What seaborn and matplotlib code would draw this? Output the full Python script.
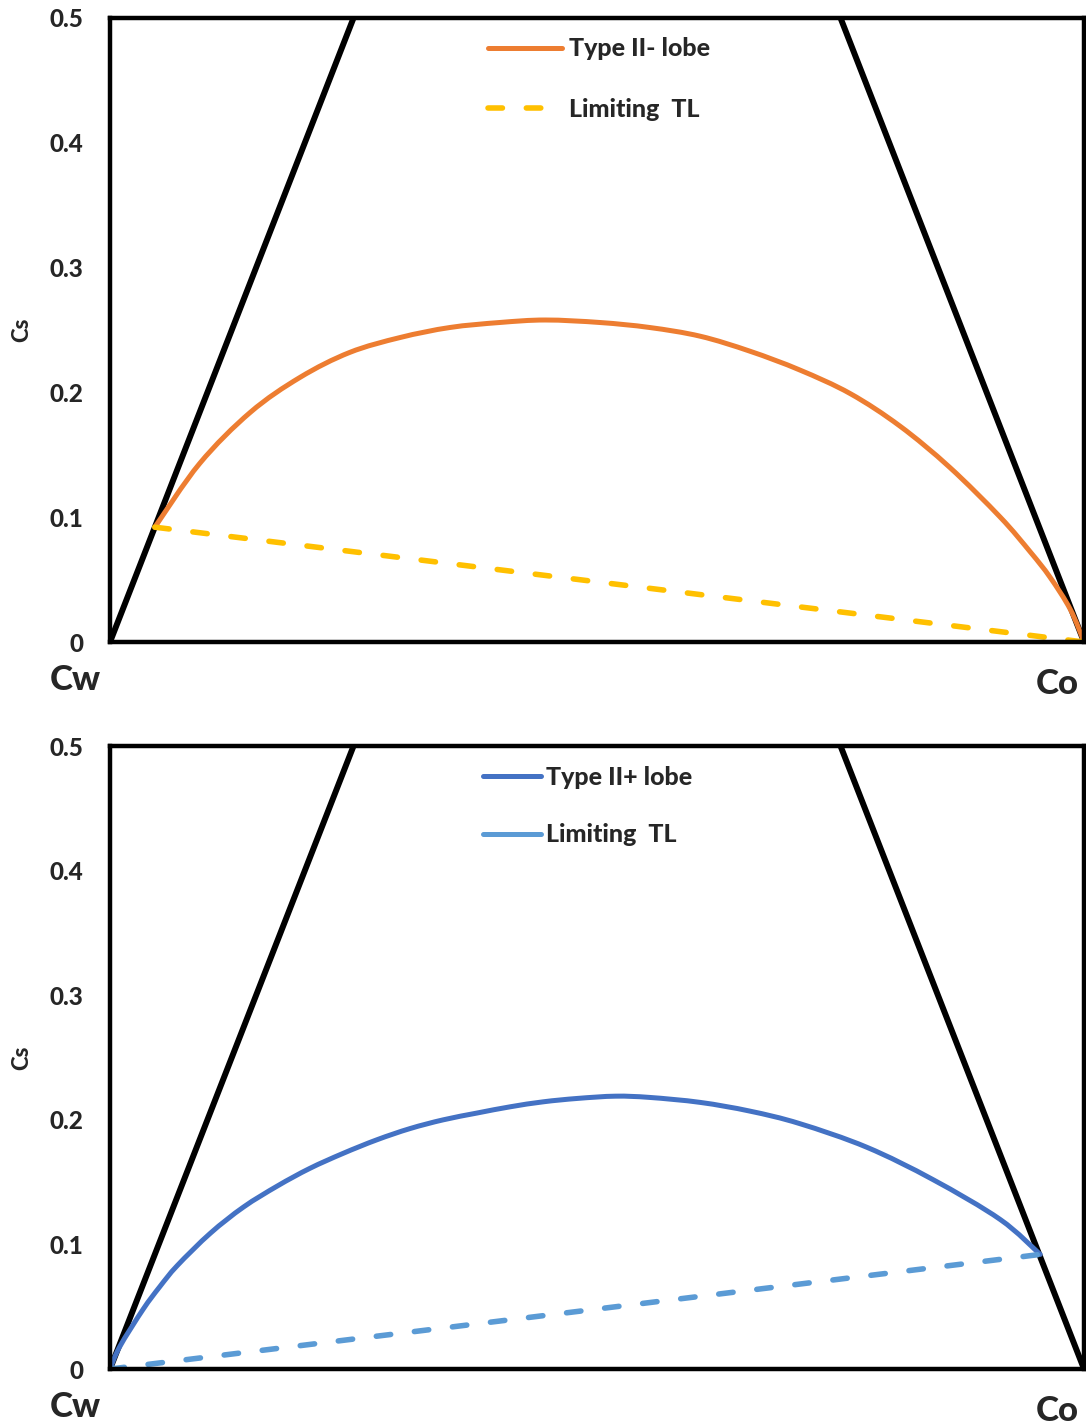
import matplotlib
matplotlib.use("Agg")
import matplotlib.pyplot as plt
from matplotlib.lines import Line2D
from matplotlib.path import Path
from matplotlib.patches import PathPatch
import seaborn as sns

# Phase-diagram frame: the two sides of the ternary region in (x, Cs) coordinates
edge_x = [0.0, 0.5, 1.0]
edge_y = [0.0, 1.0, 0.0]

# Type II- lobe (binodal) and its limiting tie line
lobe_minus_x = [0.046, 0.092, 0.144, 0.195, 0.246, 0.298, 0.349, 0.400, 0.447,
                0.503, 0.554, 0.606, 0.657, 0.708, 0.760, 0.811, 0.862, 0.914,
                0.945, 0.965, 0.986, 1.000]
lobe_minus_y = [0.092, 0.143, 0.184, 0.212, 0.232, 0.244, 0.252, 0.256, 0.258,
                0.256, 0.252, 0.245, 0.233, 0.218, 0.199, 0.173, 0.140, 0.100,
                0.072, 0.052, 0.026, 0.000]
tl_minus_x = [0.046, 1.000]
tl_minus_y = [0.092, 0.000]

# Type II+ lobe (binodal) and its limiting tie line
lobe_plus_x = [0.000, 0.010, 0.034, 0.051, 0.069, 0.103, 0.137, 0.172, 0.205,
               0.239, 0.274, 0.308, 0.342, 0.377, 0.411, 0.445, 0.480, 0.519,
               0.554, 0.606, 0.657, 0.708, 0.777, 0.845, 0.914, 0.955]
lobe_plus_y = [0.000, 0.018, 0.048, 0.066, 0.083, 0.109, 0.130, 0.147, 0.161,
               0.173, 0.184, 0.193, 0.200, 0.2055, 0.2105, 0.2145, 0.2172, 0.219,
               0.218, 0.214, 0.207, 0.197, 0.178, 0.152, 0.120, 0.092]
tl_plus_x = [0.000, 0.955]
tl_plus_y = [0.000, 0.092]

y_ticks = [0.0, 0.1, 0.2, 0.3, 0.4, 0.5]
y_tick_labels = ["0", "0.1", "0.2", "0.3", "0.4", "0.5"]

ORANGE = "#ED7D31"
YELLOW = "#FFC000"
BLUE = "#4472C4"
LIGHT_BLUE = "#5B9BD5"

sns.set_theme(style="white")
plt.rcParams["font.family"] = ["Lato", "DejaVu Sans"]
plt.rcParams["font.weight"] = 900

WEIGHT = 900
CURVE_LW = 3.6
TL_LW = 4.0
DASH = (2.6, 4.3)

fig = plt.figure(figsize=(10.86, 14.27), dpi=100)
ax_top = fig.add_axes([0.1013, 0.5501, 0.8969, 0.4373])
ax_bot = fig.add_axes([0.1013, 0.0406, 0.8969, 0.4366])


def smooth_path(xs, ys):
    """Smoothed line through the given points (cubic Bezier segments)."""
    pts = list(zip(xs, ys))
    n = len(pts)
    verts = [pts[0]]
    codes = [Path.MOVETO]
    for i in range(n - 1):
        p0 = pts[i - 1] if i > 0 else pts[i]
        p1 = pts[i]
        p2 = pts[i + 1]
        p3 = pts[i + 2] if i + 2 < n else pts[i + 1]
        c1 = (p1[0] + (p2[0] - p0[0]) / 6.0, p1[1] + (p2[1] - p0[1]) / 6.0)
        c2 = (p2[0] - (p3[0] - p1[0]) / 6.0, p2[1] - (p3[1] - p1[1]) / 6.0)
        verts += [c1, c2, p2]
        codes += [Path.CURVE4] * 3
    return Path(verts, codes)


def lobe(ax, xs, ys, color):
    ax.add_patch(PathPatch(smooth_path(xs, ys), facecolor="none",
                           edgecolor=color, linewidth=CURVE_LW,
                           capstyle="round", joinstyle="round", zorder=3))


def frame(ax):
    sns.lineplot(x=edge_x, y=edge_y, sort=False, estimator=None, ax=ax,
                 color="black", linewidth=4.3)
    ax.set_xlim(0, 1)
    ax.set_ylim(0, 0.5)
    ax.set_xticks([])
    ax.set_yticks(y_ticks)
    ax.set_yticklabels(y_tick_labels, fontsize=17.5, fontweight=WEIGHT)
    ax.tick_params(axis="y", length=0, pad=19)
    for side in ["left", "right", "top", "bottom"]:
        ax.spines[side].set_visible(True)
        ax.spines[side].set_color("black")
        ax.spines[side].set_linewidth(3.2)
        ax.spines[side].set_zorder(5)
    ax.set_xlabel("")
    ax.set_ylabel("Cs", fontsize=16, fontweight=WEIGHT)
    ax.yaxis.set_label_coords(-0.080, 0.5)
    ax.text(-0.036, -0.061, "Cw", transform=ax.transAxes, ha="center",
            va="center", fontsize=25, fontweight=WEIGHT, clip_on=False)
    ax.text(0.973, -0.067, "Co", transform=ax.transAxes, ha="center",
            va="center", fontsize=25, fontweight=WEIGHT, clip_on=False)


def dashed(ax, xs, ys, color):
    sns.lineplot(x=xs, y=ys, sort=False, estimator=None, ax=ax,
                 color=color, linewidth=TL_LW)
    line = ax.lines[-1]
    line.set_dashes(DASH)
    line.set_dash_capstyle("round")
    line.set_zorder(4)


# --- upper panel: Type II- lobe ---
frame(ax_top)
lobe(ax_top, lobe_minus_x, lobe_minus_y, ORANGE)
dashed(ax_top, tl_minus_x, tl_minus_y, YELLOW)

top_handles = [
    Line2D([], [], color=ORANGE, linewidth=CURVE_LW, solid_capstyle="round"),
    Line2D([], [], color=YELLOW, linewidth=TL_LW, dashes=DASH,
           dash_capstyle="round"),
]
ax_top.legend(top_handles, ["Type II- lobe", "Limiting  TL"],
              loc="center left", bbox_to_anchor=(0.388, 0.902),
              frameon=False, borderpad=0, borderaxespad=0, handlelength=2.95,
              handletextpad=0.3, labelspacing=1.5,
              prop={"size": 18, "weight": WEIGHT})

# --- lower panel: Type II+ lobe ---
frame(ax_bot)
lobe(ax_bot, lobe_plus_x, lobe_plus_y, BLUE)
dashed(ax_bot, tl_plus_x, tl_plus_y, LIGHT_BLUE)

bot_handles = [
    Line2D([], [], color=BLUE, linewidth=CURVE_LW, solid_capstyle="round"),
    Line2D([], [], color=LIGHT_BLUE, linewidth=CURVE_LW,
           solid_capstyle="round"),
]
ax_bot.legend(bot_handles, ["Type II+ lobe", "Limiting  TL"],
              loc="center left", bbox_to_anchor=(0.383, 0.9035),
              frameon=False, borderpad=0, borderaxespad=0, handlelength=2.3,
              handletextpad=0.2, labelspacing=1.37,
              prop={"size": 18, "weight": WEIGHT})

fig.savefig("out.png", dpi=100)
